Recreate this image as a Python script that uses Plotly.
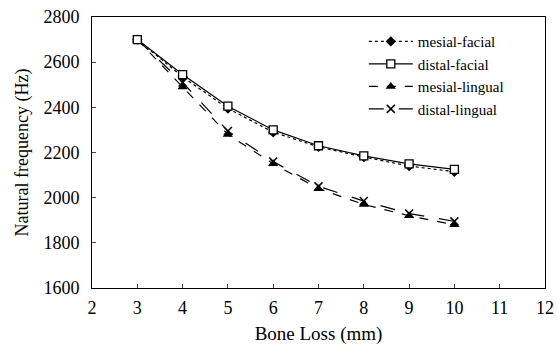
import plotly.graph_objects as go

bone_loss = [3, 4, 5, 6, 7, 8, 9, 10]
mesial_facial = [2700, 2535, 2395, 2290, 2225, 2180, 2140, 2115]
distal_facial = [2700, 2545, 2405, 2300, 2230, 2185, 2150, 2125]
mesial_lingual = [2700, 2490, 2280, 2150, 2040, 1970, 1920, 1880]
distal_lingual = [2700, 2510, 2295, 2160, 2050, 1985, 1930, 1895]

x_ticks = [2, 3, 4, 5, 6, 7, 8, 9, 10, 11, 12]
y_ticks = [1600, 1800, 2000, 2200, 2400, 2600, 2800]

FONT = "Liberation Serif, Times New Roman, serif"

fig = go.Figure()
fig.add_trace(go.Scatter(x=bone_loss, y=mesial_facial, name="mesial-facial", mode="lines+markers",
                         line=dict(color="black", width=1.2, dash="dot"),
                         marker=dict(symbol="diamond", size=8, color="black")))
fig.add_trace(go.Scatter(x=bone_loss, y=mesial_lingual, name="mesial-lingual", mode="lines+markers",
                         line=dict(color="black", width=1.2, dash="dash"),
                         marker=dict(symbol="triangle-up", size=9, color="black")))
fig.add_trace(go.Scatter(x=bone_loss, y=distal_lingual, name="distal-lingual", mode="lines+markers",
                         line=dict(color="black", width=1.2, dash="longdash"),
                         marker=dict(symbol="x-thin", size=8, color="black",
                                     line=dict(color="black", width=1.5))))
fig.add_trace(go.Scatter(x=bone_loss, y=distal_facial, name="distal-facial", mode="lines+markers",
                         line=dict(color="black", width=1.2),
                         marker=dict(symbol="square", size=8, color="white",
                                     line=dict(color="black", width=1.3))))

fig.update_layout(
    width=557, height=350,
    margin=dict(l=92, r=12, t=17, b=62),
    paper_bgcolor="white", plot_bgcolor="white",
    font=dict(family=FONT, size=16, color="black"),
    legend=dict(x=0.6, y=0.97, xanchor="left", yanchor="top",
                traceorder="normal", bgcolor="rgba(0,0,0,0)",
                font=dict(family=FONT, size=15), itemwidth=44, tracegroupgap=0),
    xaxis=dict(range=[2, 12], tickvals=x_ticks, ticks="inside", ticklen=4,
               showline=True, linecolor="black", linewidth=1, mirror=True,
               showgrid=False, zeroline=False, ticklabelstandoff=3, automargin=False,
               tickfont=dict(family=FONT, size=18),
               title=dict(text="Bone Loss (mm)", standoff=10, font=dict(family=FONT, size=19))),
    yaxis=dict(range=[1600, 2800], tickvals=y_ticks, ticks="inside", ticklen=4,
               showline=True, linecolor="black", linewidth=1, mirror=True,
               showgrid=False, zeroline=False, ticklabelstandoff=8, automargin=False,
               tickfont=dict(family=FONT, size=18),
               title=dict(text="Natural frequency (Hz)", standoff=10, font=dict(family=FONT, size=18))),
)

order = ["mesial-facial", "distal-facial", "mesial-lingual", "distal-lingual"]
for t in fig.data:
    t.legendrank = order.index(t.name) + 1

# remove the default 8px page margin so the 557x350 figure fills the window exactly
fig.write_html("out.html",
               config={"displayModeBar": False},
               post_script="document.body.style.margin='0';document.body.style.overflow='hidden';")
